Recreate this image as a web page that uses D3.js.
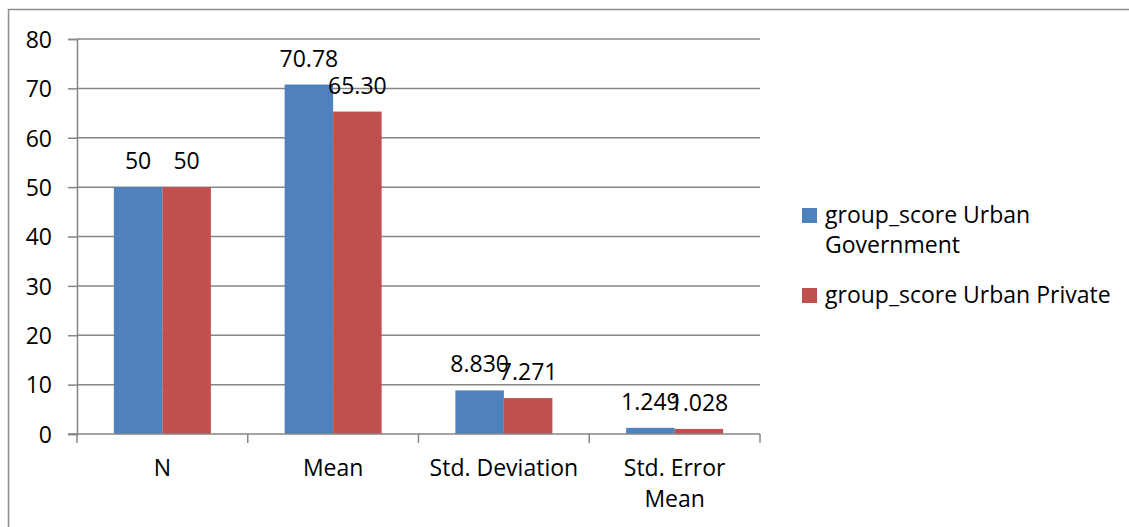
<!DOCTYPE html>
<html>
<head>
<meta charset="utf-8">
<script src="https://cdn.jsdelivr.net/npm/d3@7"></script>
<style>
  body { margin: 0; background: #fff; }
  svg text { font-family: "Open Sans", "Liberation Sans", sans-serif; fill: #000; }
</style>
</head>
<body>
<script>
// data
const categories = ["N", "Mean", "Std. Deviation", "Std. Error Mean"];
const seriesNames = ["group_score Urban Government", "group_score Urban Private"];
const government = [50, 70.78, 8.830, 1.249];
const privateSchools = [50, 65.30, 7.271, 1.028];
const govLabels = ["50", "70.78", "8.830", "1.249"];
const privLabels = ["50", "65.30", "7.271", "1.028"];
const yTicks = [0, 10, 20, 30, 40, 50, 60, 70, 80];
const colors = ["#4F81BD", "#C0504D"];

// set the dimensions and margins of the graph
const W = 1129, H = 527;
const margin = {top: 39, left: 77, right: 369, bottom: 93};
const width = W - margin.left - margin.right,
    height = H - margin.top - margin.bottom;
const fontSize = "23px";

const svg = d3.select("body")
    .append("svg")
    .attr("width", W)
    .attr("height", H);

// outer frame (top and left visible)
svg.append("path")
    .attr("d", `M8.5,${H} V9.5 H${W}`)
    .attr("fill", "none")
    .attr("stroke", "#8c8c8c")
    .attr("stroke-width", 1.5);

const g = svg.append("g")
    .attr("transform", `translate(${margin.left}, ${margin.top})`);

const x = d3.scaleBand()
    .domain(categories)
    .range([0, width]);

const x1 = d3.scaleBand()
    .domain([0, 1])
    .range([0, x.bandwidth()])
    .paddingOuter(0.76);

const y = d3.scaleLinear()
    .domain([0, 80])
    .range([height, 0]);

// gridlines
g.append("g")
    .selectAll("line")
    .data(yTicks.slice(1))
    .join("line")
    .attr("x1", 0)
    .attr("x2", width)
    .attr("y1", d => y(d))
    .attr("y2", d => y(d))
    .attr("stroke", "#868686")
    .attr("stroke-width", 1.5);

// Y axis
const yAxis = g.append("g")
    .call(d3.axisLeft(y).tickValues(yTicks).tickSize(9).tickPadding(16));
yAxis.select(".domain").attr("stroke", "#868686").attr("stroke-width", 1.5);
yAxis.selectAll(".tick line").attr("stroke", "#868686").attr("stroke-width", 1.5);
yAxis.selectAll("text").style("font-size", fontSize).attr("dy", "0.36em");

// bars
const series = [government, privateSchools];
const labels = [govLabels, privLabels];
series.forEach((vals, si) => {
  g.append("g")
    .selectAll("rect")
    .data(vals)
    .join("rect")
    .attr("x", (d, i) => x(categories[i]) + x1(si))
    .attr("y", d => y(d))
    .attr("width", x1.bandwidth())
    .attr("height", d => height - y(d))
    .attr("fill", colors[si]);

  g.append("g")
    .selectAll("text")
    .data(vals)
    .join("text")
    .attr("x", (d, i) => x(categories[i]) + x1(si) + x1.bandwidth() / 2)
    .attr("y", d => y(d) - 18)
    .attr("text-anchor", "middle")
    .style("font-size", fontSize)
    .text((d, i) => labels[si][i]);
});

// X axis
const xAxis = g.append("g")
    .attr("transform", `translate(0, ${height})`);
xAxis.append("line")
    .attr("x1", -9).attr("x2", width)
    .attr("stroke", "#868686").attr("stroke-width", 1.5);
xAxis.selectAll(".tk")
    .data(d3.range(categories.length + 1))
    .join("line")
    .attr("class", "tk")
    .attr("x1", i => i * x.step())
    .attr("x2", i => i * x.step())
    .attr("y1", 0).attr("y2", 9)
    .attr("stroke", "#868686").attr("stroke-width", 1.5);

const wrapped = {"Std. Error Mean": ["Std. Error", "Mean"]};
xAxis.selectAll(".cat")
    .data(categories)
    .join("text")
    .attr("class", "cat")
    .attr("text-anchor", "middle")
    .style("font-size", fontSize)
    .attr("transform", d => `translate(${x(d) + x.bandwidth() / 2}, 42)`)
    .each(function(d) {
      const lines = wrapped[d] || [d];
      d3.select(this).selectAll("tspan")
        .data(lines)
        .join("tspan")
        .attr("x", 0)
        .attr("dy", (l, i) => i === 0 ? 0 : 31)
        .text(l => l);
    });

// legend
const legend = svg.append("g")
    .attr("transform", "translate(802, 0)");
const legendItems = [
  {lines: ["group_score Urban", "Government"], y: 208},
  {lines: ["group_score Urban Private"], y: 288}
];
legendItems.forEach((it, i) => {
  legend.append("rect")
    .attr("x", 0).attr("y", it.y)
    .attr("width", 15).attr("height", 15)
    .attr("fill", colors[i]);
  const t = legend.append("text")
    .attr("x", 23).attr("y", it.y + 15)
    .style("font-size", fontSize);
  t.selectAll("tspan")
    .data(it.lines)
    .join("tspan")
    .attr("x", 23)
    .attr("dy", (l, j) => j === 0 ? 0 : 30)
    .text(l => l);
});
</script>
</body>
</html>
